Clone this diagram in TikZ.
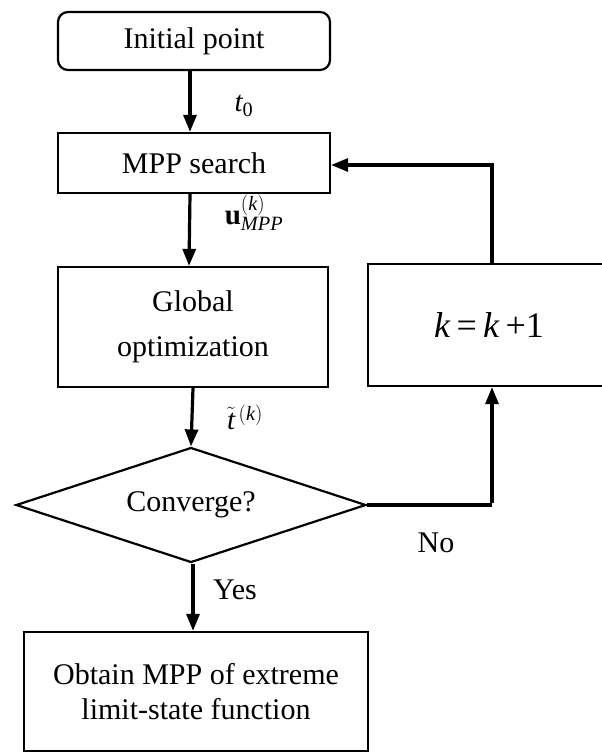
\documentclass[tikz,border=0pt]{standalone}
\usepackage{fontspec}
\setmainfont{Liberation Serif}
\usetikzlibrary{arrows.meta,shapes.geometric}
\tikzset{
  box/.style={draw=black, line width=2.2pt, rectangle, inner sep=0pt, align=center, font=\fontsize{30}{35}\selectfont},
  dec/.style={draw=black, line width=2.2pt, diamond, aspect=3, inner sep=0pt, minimum width=350pt, minimum height=115pt, font=\fontsize{30}{35}\selectfont},
  arr/.style={line width=3.2pt, -{Triangle[length=17pt,width=13pt]}},
  lnk/.style={line width=3.2pt},
  lbl/.style={inner sep=0pt, font=\fontsize{30}{35}\selectfont},
  mlbl/.style={inner sep=0pt, font=\fontsize{29}{32}\selectfont}
}
\begin{document}
\begin{tikzpicture}[x=1pt,y=-1pt]
\useasboundingbox (0,0) rectangle (602,752);
\clip (0,0) rectangle (602,752);
\node[box, rounded corners=10pt, minimum width=272pt, minimum height=58pt] (init) at (194,41) {Initial point};
\node[box, minimum width=272pt, minimum height=60pt] (mpp) at (194,163) {MPP search};
\node[box, minimum width=270pt, minimum height=120pt, font=\fontsize{30}{45}\selectfont] (glob) at (193,327) {Global\\optimization};
\node[box, minimum width=242pt, minimum height=122pt, font=\fontsize{36}{40}\selectfont] (kbox) at (489,325) {\textit{k}\,=\,\textit{k}\,+1};
\node[dec] (conv) at (191,505) {Converge?};
\node[box, minimum width=344pt, minimum height=119pt] (obt) at (196,691.5) {Obtain MPP of extreme\\limit-state function};

\coordinate (fb) at (492,165);

\draw[arr] ([xshift=-4pt]init.south) -- ([xshift=-4pt]mpp.north);
\draw[arr] ([xshift=-4pt]mpp.south) -- ([xshift=-4pt]glob.north);
\draw[arr] (glob.south) -- (conv.north);
\draw[arr] ([xshift=2pt]conv.south) -- ([xshift=-3pt]obt.north);
\draw[lnk] (conv.east) -- (conv.east -| fb);
\draw[arr] ([yshift=1.6pt]conv.east -| fb) -- (kbox.south -| fb);
\draw[lnk] (kbox.north -| fb) -- ([yshift=-1.6pt]fb);
\draw[arr] ([xshift=1.6pt]fb) -- (fb -| mpp.east);

\node[mlbl] (t0) at (244,106) {$\mathit{t}_{\mathrm{0}}$};
\node[mlbl] (umpp) at (254,213) {$\mathbf{u}^{(\mathit{k})}_{\mathit{MPP}}$};
\node[mlbl] (tk) at (245,417) {$\tilde{\mathit{t}}^{\,(\mathit{k})}$};
\node[lbl] (yes) at (235,590) {Yes};
\node[lbl] (no) at (436,543) {No};
\end{tikzpicture}
\end{document}
